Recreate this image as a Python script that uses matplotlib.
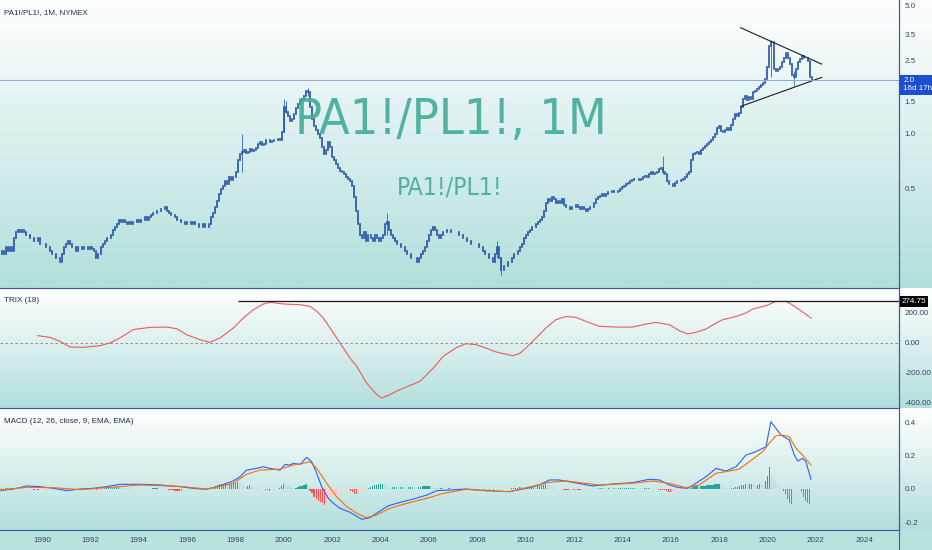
import os

import matplotlib
matplotlib.use("Agg")
import matplotlib.pyplot as plt
from matplotlib import font_manager
from matplotlib.colors import LinearSegmentedColormap
from matplotlib.font_manager import FontProperties
from matplotlib.lines import Line2D
import numpy as np

plt.rcParams['font.family'] = ['Liberation Sans Narrow', 'Liberation Sans', 'DejaVu Sans']

# --------------------------------------------------
# data
# --------------------------------------------------
# monthly closes PA1!/PL1!, Apr 1988 .. Nov 2021
start_year = 1988
start_month = 4
close = [
    0.22, 0.23, 0.22, 0.24, 0.23, 0.24, 0.23, 0.27, 0.29,                    # 1988
    0.30, 0.29, 0.30, 0.29, 0.28, 0.28, 0.27, 0.27, 0.26, 0.26, 0.27, 0.25,  # 1989
    0.25, 0.25, 0.24, 0.24, 0.23, 0.22, 0.22, 0.21, 0.21, 0.20, 0.22, 0.24,  # 1990
    0.25, 0.26, 0.25, 0.24, 0.24, 0.23, 0.24, 0.24, 0.235, 0.24, 0.24, 0.235,  # 1991
    0.24, 0.235, 0.23, 0.21, 0.22, 0.24, 0.25, 0.26, 0.27, 0.27, 0.28, 0.30,  # 1992
    0.31, 0.32, 0.34, 0.33, 0.34, 0.33, 0.32, 0.33, 0.32, 0.33, 0.33, 0.34,  # 1993
    0.33, 0.34, 0.34, 0.35, 0.34, 0.35, 0.36, 0.37, 0.37, 0.38, 0.38, 0.39,  # 1994
    0.39, 0.40, 0.38, 0.37, 0.36, 0.36, 0.35, 0.34, 0.34, 0.33, 0.33, 0.32,  # 1995
    0.33, 0.33, 0.32, 0.33, 0.32, 0.32, 0.31, 0.31, 0.32, 0.31, 0.31, 0.32,  # 1996
    0.35, 0.37, 0.40, 0.43, 0.47, 0.50, 0.52, 0.55, 0.53, 0.58, 0.56, 0.58,  # 1997
    0.62, 0.72, 0.78, 0.80, 0.82, 0.79, 0.80, 0.83, 0.81, 0.82, 0.84, 0.88,  # 1998
    0.90, 0.87, 0.88, 0.92, 0.93, 0.90, 0.91, 0.92, 0.93, 0.94, 0.92, 1.02,  # 1999
    1.40, 1.32, 1.25, 1.18, 1.20, 1.28, 1.38, 1.45, 1.50, 1.52, 1.60, 1.72,  # 2000
    1.68, 1.40, 1.20, 1.10, 1.05, 1.00, 0.95, 0.85, 0.78, 0.82, 0.90, 0.85,  # 2001
    0.75, 0.72, 0.68, 0.65, 0.63, 0.62, 0.60, 0.58, 0.57, 0.55, 0.52, 0.45,  # 2002
    0.38, 0.32, 0.28, 0.27, 0.29, 0.26, 0.28, 0.27, 0.26, 0.28, 0.27, 0.26,  # 2003
    0.27, 0.28, 0.32, 0.33, 0.30, 0.28, 0.27, 0.26, 0.25, 0.25, 0.24, 0.24,  # 2004
    0.23, 0.22, 0.22, 0.21, 0.21, 0.21, 0.20, 0.21, 0.22, 0.23, 0.24, 0.26,  # 2005
    0.28, 0.30, 0.31, 0.30, 0.28, 0.27, 0.28, 0.29, 0.29, 0.30, 0.30, 0.29,  # 2006
    0.29, 0.29, 0.29, 0.28, 0.28, 0.27, 0.27, 0.26, 0.26, 0.25, 0.25, 0.25,  # 2007
    0.25, 0.24, 0.24, 0.23, 0.22, 0.22, 0.21, 0.21, 0.20, 0.22, 0.24, 0.21,  # 2008
    0.18, 0.19, 0.19, 0.20, 0.20, 0.21, 0.22, 0.22, 0.23, 0.24, 0.25, 0.27,  # 2009
    0.28, 0.29, 0.30, 0.31, 0.31, 0.32, 0.33, 0.34, 0.35, 0.38, 0.42, 0.44,  # 2010
    0.43, 0.45, 0.44, 0.42, 0.43, 0.42, 0.44, 0.41, 0.40, 0.40, 0.39, 0.40,  # 2011
    0.40, 0.41, 0.40, 0.39, 0.40, 0.39, 0.38, 0.39, 0.40, 0.40, 0.42, 0.44,  # 2012
    0.45, 0.46, 0.47, 0.46, 0.47, 0.48, 0.48, 0.49, 0.48, 0.48, 0.49, 0.50,  # 2013
    0.51, 0.52, 0.53, 0.54, 0.55, 0.56, 0.57, 0.57, 0.56, 0.57, 0.58, 0.59,  # 2014
    0.58, 0.60, 0.62, 0.60, 0.61, 0.62, 0.64, 0.65, 0.62, 0.60, 0.55, 0.53,  # 2015
    0.53, 0.52, 0.54, 0.55, 0.55, 0.56, 0.57, 0.58, 0.60, 0.62, 0.72, 0.78,  # 2016
    0.79, 0.80, 0.78, 0.82, 0.84, 0.86, 0.88, 0.90, 0.92, 0.96, 1.00, 1.08,  # 2017
    1.10, 1.04, 1.02, 1.05, 1.07, 1.05, 1.12, 1.20, 1.28, 1.25, 1.30, 1.40,  # 2018
    1.55, 1.60, 1.52, 1.58, 1.55, 1.68, 1.72, 1.75, 1.80, 1.85, 1.90, 2.00,  # 2019
    2.30, 3.00, 3.15, 2.25, 2.20, 2.25, 2.30, 2.45, 2.60, 2.75, 2.60, 2.40,  # 2020
    2.10, 2.05, 2.25, 2.45, 2.55, 2.65, 2.60, 2.60, 2.50, 2.05, 1.96,        # 2021
]

# the few months whose wicks stick out clearly
wick_t = [1998.25, 2000.0, 2000.0833, 2001.0, 2004.25, 2008.8333, 2009.0, 2015.6667, 2020.1667, 2021.0833]
wick_hi = [1.00, 1.55, 1.50, 1.78, 0.37, 0.26, 0.21, 0.76, 3.25, 2.20]
wick_lo = [0.62, 1.02, 1.30, 1.60, 0.28, 0.21, 0.17, 0.60, 2.05, 1.82]

# triangle drawn on the price pane
tri_t = [2018.89, 2022.24]
tri_upper = [3.79, 2.40]
tri_lower = [1.41, 2.03]

# TRIX (18) readings
trix_t = [1989.82, 1990.33, 1990.74, 1991.15, 1991.71, 1992.40, 1992.81, 1993.22, 1993.77, 1994.46,
          1995.15, 1995.57, 1995.98, 1996.53, 1996.94, 1997.36, 1997.91, 1998.32, 1998.74, 1999.15,
          1999.43, 1999.98, 2000.67, 2001.08, 2001.36, 2001.63, 2002.05, 2002.32, 2002.73, 2003.01,
          2003.42, 2003.84, 2004.04, 2004.39, 2004.80, 2005.63, 2006.18, 2006.59, 2007.15, 2007.53,
          2007.94, 2008.36, 2008.77, 2009.46, 2009.74, 2010.01, 2010.43, 2010.84, 2011.25, 2011.67,
          2012.08, 2012.49, 2013.04, 2013.73, 2014.42, 2014.97, 2015.39, 2015.94, 2016.35, 2016.70,
          2017.04, 2017.46, 2017.87, 2018.15, 2018.70, 2019.11, 2019.39, 2019.94, 2020.35, 2020.76,
          2020.97, 2021.32, 2021.80]
trix_v = [46, 34, 8, -30, -32, -21, -3, 30, 86, 101,
          103, 92, 52, 19, 1, 30, 97, 163, 219, 257,
          268, 257, 252, 241, 208, 163, 63, -3, -103, -159,
          -270, -348, -370, -348, -314, -259, -170, -92, -32, -8,
          -14, -37, -63, -88, -74, -37, 30, 97, 152, 174,
          168, 141, 108, 103, 103, 123, 134, 119, 79, 57,
          68, 90, 130, 152, 174, 197, 223, 246, 274, 274,
          257, 219, 163]
trix_level = 274.75
trix_level_from = 1998.1

# MACD (12, 26, close, 9) readings
macd_t = [1988.26, 1988.81, 1989.36, 1989.91, 1990.47, 1991.02, 1991.57, 1992.12, 1992.67, 1993.22,
          1994.05, 1994.88, 1995.70, 1996.26, 1996.81, 1997.36, 1997.91, 1998.19, 1998.46, 1998.87,
          1999.15, 1999.56, 1999.84, 2000.05, 2000.25, 2000.39, 2000.67, 2000.94, 2001.15, 2001.36,
          2001.56, 2001.84, 2002.05, 2002.32, 2002.73, 2003.22, 2003.56, 2003.98, 2004.32, 2004.80,
          2005.35, 2005.91, 2006.32, 2006.87, 2007.53, 2008.36, 2009.32, 2010.01, 2010.56, 2010.98,
          2011.39, 2011.94, 2012.77, 2013.46, 2014.42, 2015.11, 2015.53, 2015.94, 2016.35, 2016.70,
          2017.04, 2017.46, 2017.87, 2018.28, 2018.70, 2019.11, 2019.52, 2019.94, 2020.14, 2020.35,
          2020.56, 2020.90, 2021.11, 2021.25, 2021.45, 2021.59, 2021.80]
macd_v = [-0.010, 0.000, 0.018, 0.014, 0.004, -0.010, 0.000, 0.004, 0.014, 0.028,
          0.028, 0.024, 0.014, 0.004, -0.002, 0.020, 0.048, 0.074, 0.113, 0.123,
          0.133, 0.119, 0.113, 0.147, 0.143, 0.153, 0.147, 0.189, 0.163, 0.094,
          0.014, -0.056, -0.086, -0.115, -0.139, -0.181, -0.171, -0.131, -0.100, -0.080,
          -0.060, -0.036, -0.010, -0.006, 0.000, -0.010, -0.016, 0.004, 0.024, 0.054,
          0.054, 0.040, 0.018, 0.028, 0.038, 0.058, 0.054, 0.024, 0.008, 0.004,
          0.034, 0.074, 0.123, 0.107, 0.133, 0.203, 0.223, 0.253, 0.402, 0.362,
          0.322, 0.293, 0.203, 0.167, 0.183, 0.163, 0.058]
signal_t = [1988.26, 1989.36, 1990.47, 1991.57, 1992.67, 1994.05, 1995.70, 1996.81, 1997.91, 1998.46,
            1999.01, 1999.84, 2000.39, 2000.80, 2001.08, 2001.36, 2001.77, 2002.18, 2002.60, 2003.01,
            2003.42, 2003.84, 2004.39, 2005.08, 2005.91, 2006.59, 2007.53, 2008.36, 2009.32, 2010.98,
            2011.67, 2013.04, 2014.42, 2015.25, 2015.94, 2016.63, 2017.18, 2017.87, 2018.42, 2018.83,
            2019.25, 2019.80, 2020.07, 2020.35, 2020.63, 2020.90, 2021.18, 2021.45, 2021.80]
signal_v = [-0.006, 0.010, 0.008, -0.004, 0.008, 0.024, 0.016, 0.000, 0.034, 0.088,
            0.113, 0.119, 0.143, 0.153, 0.163, 0.123, 0.034, -0.046, -0.105, -0.145,
            -0.171, -0.155, -0.115, -0.086, -0.056, -0.026, -0.002, -0.010, -0.016, 0.040,
            0.048, 0.024, 0.034, 0.048, 0.034, 0.008, 0.024, 0.094, 0.107, 0.119,
            0.163, 0.223, 0.273, 0.318, 0.322, 0.312, 0.243, 0.203, 0.143]
# monthly histogram, same months as close
hist = [
    0.004, 0.004, 0.003, 0.003, 0.004, 0.005, 0.006, 0.008, 0.008,
    0.008, 0.006, 0.004, 0.002, 0.001, -0.001, -0.002, -0.003, -0.004, -0.004, -0.005, -0.005,
    -0.005, -0.004, -0.004, -0.004, -0.003, -0.003, -0.002, -0.002, -0.001, 0.0, 0.001, 0.002,
    0.003, 0.003, 0.002, 0.002, 0.001, 0.001, 0.002, 0.002, 0.002, 0.001, 0.001, 0.0,
    -0.001, -0.002, -0.003, -0.004, -0.003, -0.001, 0.001, 0.003, 0.004, 0.005, 0.006, 0.008,
    0.009, 0.010, 0.011, 0.010, 0.008, 0.007, 0.005, 0.004, 0.003, 0.002, 0.001, 0.001,
    0.0, 0.001, 0.001, 0.002, 0.002, 0.002, 0.002, 0.003, 0.003, 0.003, 0.002, 0.002,
    0.001, 0.0, -0.002, -0.004, -0.006, -0.008, -0.009, -0.010, -0.011, -0.012, -0.010, -0.009,
    -0.007, -0.005, -0.004, -0.003, -0.003, -0.002, -0.002, -0.001, -0.002, -0.002, -0.001, 0.002,
    0.008, 0.014, 0.020, 0.024, 0.028, 0.030, 0.032, 0.033, 0.030, 0.032, 0.034, 0.034,
    0.036, 0.040, 0.038, 0.030, 0.022, 0.018, 0.020, 0.024, 0.020, 0.012, 0.008, 0.006,
    0.005, 0.002, -0.002, -0.006, -0.008, -0.010, -0.008, -0.004, -0.002, 0.002, 0.006, 0.020,
    0.030, 0.028, 0.020, 0.010, 0.004, 0.002, 0.008, 0.012, 0.015, 0.018, 0.024, 0.032,
    0.020, -0.010, -0.025, -0.045, -0.060, -0.070, -0.075, -0.085, -0.095, -0.090, -0.065, -0.050,
    -0.045, -0.040, -0.035, -0.030, -0.025, -0.020, -0.015, -0.012, -0.010, -0.012, -0.018, -0.028,
    -0.030, -0.025, -0.020, -0.010, -0.005, 0.0, 0.008, 0.012, 0.018, 0.022, 0.025, 0.030,
    0.030, 0.032, 0.028, 0.020, 0.012, 0.010, 0.011, 0.012, 0.012, 0.011, 0.012, 0.014,
    0.012, 0.010, 0.011, 0.012, 0.013, 0.012, 0.010, 0.012, 0.014, 0.015, 0.016, 0.018,
    0.020, 0.018, 0.012, 0.008, 0.006, 0.004, 0.004, 0.003, 0.002, 0.002, 0.003, 0.002,
    0.002, 0.001, 0.0, -0.001, -0.001, -0.002, -0.002, -0.003, -0.003, -0.002, -0.002, -0.001,
    -0.002, -0.003, -0.002, -0.004, -0.005, -0.004, -0.006, -0.004, -0.006, -0.005, -0.004, -0.003,
    -0.003, -0.002, -0.001, 0.0, 0.001, 0.003, 0.005, 0.006, 0.008, 0.010, 0.010, 0.008,
    0.007, 0.008, 0.010, 0.012, 0.012, 0.011, 0.015, 0.018, 0.022, 0.025, 0.028, 0.026,
    0.024, 0.018, 0.012, 0.006, 0.002, -0.002, -0.003, -0.004, -0.005, -0.006, -0.006, -0.005,
    -0.006, -0.005, -0.006, -0.007, -0.006, -0.005, -0.004, -0.004, -0.003, -0.002, 0.0, 0.002,
    0.004, 0.005, 0.006, 0.005, 0.004, 0.005, 0.004, 0.003, 0.004, 0.003, 0.003, 0.004,
    0.004, 0.005, 0.006, 0.006, 0.007, 0.008, 0.008, 0.007, 0.006, 0.005, 0.004, 0.004,
    0.005, 0.006, 0.004, 0.002, 0.0, -0.002, -0.004, -0.005, -0.006, -0.008, -0.012, -0.015,
    -0.016, -0.015, -0.013, -0.012, -0.010, -0.008, -0.006, -0.004, -0.002, 0.002, 0.008, 0.012,
    0.016, 0.018, 0.015, 0.017, 0.018, 0.020, 0.021, 0.022, 0.024, 0.026, 0.028, 0.030,
    0.030, 0.025, 0.015, 0.008, 0.004, 0.002, 0.003, 0.006, 0.010, 0.014, 0.018, 0.022,
    0.026, 0.028, 0.025, 0.030, 0.032, 0.028, 0.020, 0.024, 0.030, 0.028, 0.026, 0.050,
    0.080, 0.130, 0.090, 0.060, 0.040, 0.025, 0.012, 0.004, -0.010, -0.030, -0.060, -0.085,
    -0.090, -0.060, -0.040, -0.025, -0.015, -0.020, -0.045, -0.070, -0.085, -0.090, -0.090,
]

year_ticks = list(range(1990, 2025, 2))
price_ticks = [0.5, 1.0, 1.5, 2.5, 3.5, 5.0]
trix_ticks = [-400, -200, 0, 200]
macd_ticks = [-0.2, 0.0, 0.2, 0.4]

# --------------------------------------------------
# layout (pixels of the 932x550 picture)
# --------------------------------------------------
W, H = 932, 550
AXIS_X = 899
PANES = {"price": (0, 288), "trix": (289, 408), "macd": (409, 530)}
BORDER = "#3a58a6"
LABEL = "#34426a"
LEGEND = "#1c2a54"
WATERMARK = "#45ad9c"
TICK_FS = 5.8


def narrow_font():
    # the watermark is set in a tall narrow face; use one if the box has it
    wanted = ["LiberationSansNarrow-Regular.ttf", "DejaVuSansCondensed.ttf",
              "RobotoCondensed-Regular.ttf", "OpenSans_Condensed-Regular.ttf"]
    files = {os.path.basename(f.fname): f.fname for f in font_manager.fontManager.ttflist}
    for name in wanted:
        if name in files:
            return FontProperties(fname=files[name])
    return FontProperties(family=["Liberation Sans", "DejaVu Sans"])


fig = plt.figure(figsize=(W / 100, H / 100), dpi=100)
grad = LinearSegmentedColormap.from_list("tv", ["#ffffff", "#b2dfdb"])


def pane_background(top, bottom):
    bg = fig.add_axes([0, 1 - bottom / H, 1, (bottom - top) / H])
    bg.set_zorder(-5)
    bg.imshow(np.linspace(0, 1, 256)[:, None], aspect="auto", cmap=grad)
    bg.set_axis_off()


def pane_axes(top, bottom):
    ax = fig.add_axes([0, 1 - bottom / H, AXIS_X / W, (bottom - top) / H])
    ax.set_facecolor("none")
    for side in ("top", "left"):
        ax.spines[side].set_visible(False)
    for side in ("right", "bottom"):
        ax.spines[side].set_color(BORDER)
        ax.spines[side].set_linewidth(0.8)
    ax.yaxis.tick_right()
    ax.tick_params(axis="y", length=0, pad=4, labelsize=TICK_FS, labelcolor=LABEL)
    ax.tick_params(axis="x", length=0)
    return ax


def fit_width(text, width_px):
    # shrink/grow a text so that it spans width_px on the canvas
    fig.canvas.draw()
    bb = text.get_window_extent()
    text.set_fontsize(text.get_fontsize() * width_px / bb.width)


for top, bottom in PANES.values():
    pane_background(top, bottom)
strip = fig.add_axes([0, 0, 1, 1 - 530 / H])
strip.set_zorder(-5)
strip.set_facecolor("#b9e2dc")
strip.set_xticks([])
strip.set_yticks([])
for s in strip.spines.values():
    s.set_visible(False)

ax1 = pane_axes(*PANES["price"])
ax2 = pane_axes(*PANES["trix"])
ax3 = pane_axes(*PANES["macd"])
x_lo, x_hi = 1988.26, 2025.44
for ax in (ax1, ax2, ax3):
    ax.set_xlim(x_lo, x_hi)
    ax.set_xticks(year_ticks)
ax1.set_xticklabels([])
ax2.set_xticklabels([])
ax3.set_xticklabels([str(y) for y in year_ticks])
ax3.tick_params(axis="x", pad=5, labelsize=TICK_FS, labelcolor=LABEL)

# --------------------------------------------------
# price pane
# --------------------------------------------------
c = np.array(close)
months = start_year + (start_month - 1) / 12 + np.arange(len(c)) / 12
o = np.r_[c[0], c[:-1]]
ax1.vlines(wick_t, wick_lo, wick_hi, color="#3565bd", lw=0.6)
bodies = ax1.vlines(months, np.minimum(o, c), np.maximum(o, c), color="#2451a8", lw=1.2)
bodies.set_capstyle("projecting")
ax1.set_yscale("log")
ax1.set_ylim(0.144, 5.37)
ax1.yaxis.set_minor_locator(plt.NullLocator())
ax1.set_yticks(price_ticks)
ax1.set_yticklabels([f"{v:.1f}" for v in price_ticks])
ax1.plot(tri_t, tri_upper, color="#1b1b1b", lw=0.8)
ax1.plot(tri_t, tri_lower, color="#1b1b1b", lw=0.8)
ax1.axhline(c[-1], color="#8ea6dc", lw=0.7)
ax1.annotate(f"{c[-1]:.1f}\n16d 17h", xy=(1, c[-1]), xycoords=("axes fraction", "data"),
             xytext=(3, 2), textcoords="offset points", ha="left", va="top",
             color="white", fontsize=TICK_FS, linespacing=1.15,
             bbox=dict(boxstyle="square,pad=0.35", fc="#1c4fd0", ec="none"),
             annotation_clip=False)
ax1.text(0.004, 0.958, "PA1!/PL1!, 1M, NYMEX", transform=ax1.transAxes,
         fontsize=5.8, color=LEGEND, va="center")
wm_font = narrow_font()
wm_big = ax1.text(0.502, 0.535, "PA1!/PL1!, 1M", transform=ax1.transAxes, ha="center",
                  va="baseline", fontproperties=wm_font, fontsize=40, color=WATERMARK, alpha=0.92)
wm_small = ax1.text(0.5, 0.326, "PA1!/PL1!", transform=ax1.transAxes, ha="center",
                    va="baseline", fontproperties=wm_font, fontsize=20, color=WATERMARK, alpha=0.92)
fit_width(wm_big, 312)
fit_width(wm_small, 106)

# --------------------------------------------------
# TRIX pane
# --------------------------------------------------
ax2.plot(trix_t, trix_v, color="#ef5a5a", lw=0.8)
ax2.axhline(0, color="#7d8290", lw=0.6, ls=(0, (3, 3)))
ax2.hlines(trix_level, trix_level_from, x_hi, color="#1b1b1b", lw=0.9)
ax2.set_ylim(-437, 357)
ax2.set_yticks(trix_ticks)
ax2.set_yticklabels([f"{v:.2f}" for v in trix_ticks])
ax2.annotate(f"{trix_level:.2f}", xy=(1, trix_level), xycoords=("axes fraction", "data"),
             xytext=(2, 0), textcoords="offset points", ha="left", va="center",
             color="white", fontsize=TICK_FS,
             bbox=dict(boxstyle="square,pad=0.25", fc="black", ec="none"),
             annotation_clip=False)
ax2.text(0.004, 0.9, "TRIX (18)", transform=ax2.transAxes, fontsize=5.8,
         color=LEGEND, va="center")

# --------------------------------------------------
# MACD pane
# --------------------------------------------------
h = np.array(hist)
prev = np.r_[0.0, h[:-1]]
bar_colors = np.where(h >= 0,
                      np.where(h >= prev, "#26a69a", "#b2dfdb"),
                      np.where(h < prev, "#ff5252", "#ffcdd2"))
ax3.bar(months, h, width=0.05, color=bar_colors)
ax3.plot(macd_t, macd_v, color="#2962ff", lw=0.8)
ax3.plot(signal_t, signal_v, color="#ff6d00", lw=0.8)
ax3.set_ylim(-0.245, 0.478)
ax3.set_yticks(macd_ticks)
ax3.set_yticklabels([f"{v:.1f}" for v in macd_ticks])
ax3.text(0.004, 0.9, "MACD (12, 26, close, 9, EMA, EMA)", transform=ax3.transAxes,
         fontsize=5.8, color=LEGEND, va="center")

fig.add_artist(Line2D([AXIS_X / W] * 2, [0, 1], transform=fig.transFigure,
                      color=BORDER, lw=0.8))

fig.savefig("out.png", dpi=100)
